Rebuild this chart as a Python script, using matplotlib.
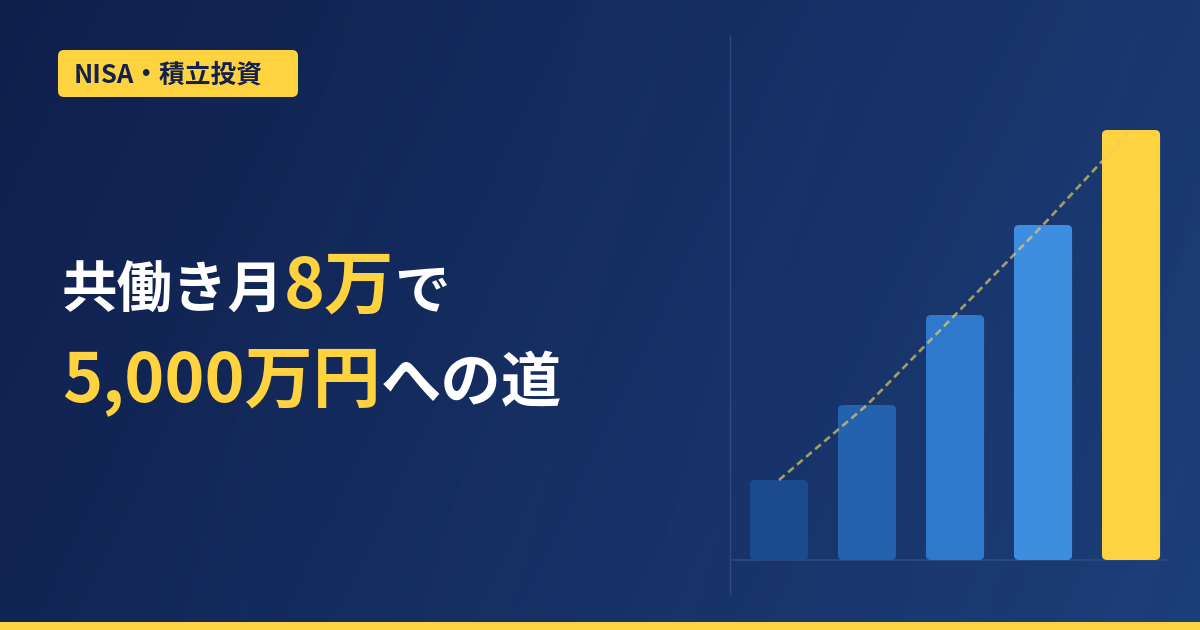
import numpy as np
import matplotlib
matplotlib.use("Agg")
import matplotlib.pyplot as plt
from matplotlib.patches import FancyBboxPatch, Rectangle, Polygon
from matplotlib.colors import to_rgb

plt.rcParams["font.family"] = ["Noto Sans CJK JP", "DejaVu Sans"]

# data
steps = [0, 1, 2, 3, 4]
values = [80, 155, 245, 335, 430]
bar_colors = ["#1C4A8E", "#2461AE", "#2F78CC", "#3D8EE0", "#FFD23F"]

badge_text = "NISA・積立投資"
line1 = [("共働き月", "white", 40), ("8万", "yellow", 50), ("で", "white", 40)]
line2 = [("5,000万円", "yellow", 49), ("への道", "white", 43.5)]

W, H = 1200, 630
YELLOW = "#FFD23F"
NAVY = "#13224A"

fig = plt.figure(figsize=(W / 100, H / 100), dpi=100)

# background in pixel coords
bg = fig.add_axes([0, 0, 1, 1])
bg.set_xlim(0, W)
bg.set_ylim(H, 0)
bg.axis("off")

c0 = np.array(to_rgb("#0F1F4C"))
c1 = np.array(to_rgb("#1C3E79"))
gx, gy = np.meshgrid(np.linspace(0, 1, 300), np.linspace(0, 1, 160))
t = 0.8 * gx + 0.2 * gy
img = c0[None, None, :] * (1 - t[..., None]) + c1[None, None, :] * t[..., None]
bg.imshow(img, extent=(0, W, H, 0), aspect="auto", zorder=0)

# faint diagonal streaks
for x0, w in [(180, 60), (420, 90), (640, 50), (900, 80), (1080, 60)]:
    bg.add_patch(Polygon([(x0, H), (x0 + w, H), (x0 + w + 170, 0), (x0 + 170, 0)],
                         closed=True, facecolor="white", alpha=0.007,
                         edgecolor="none", zorder=1))

# bottom stripe
bg.add_patch(Rectangle((0, 622), W, 8, facecolor=YELLOW, edgecolor="none", zorder=2))

# badge
bg.add_patch(FancyBboxPatch((58, 50), 240, 47,
                            boxstyle="round,pad=0,rounding_size=6",
                            facecolor=YELLOW, edgecolor="none", zorder=3))
bg.text(74, 83, badge_text, fontsize=18.5, fontweight="bold", color=NAVY,
        va="baseline", ha="left", zorder=4)

# title, drawn piece by piece
fig.canvas.draw()
renderer = fig.canvas.get_renderer()
colors = {"white": "white", "yellow": YELLOW}


def draw_line(parts, x, y):
    for txt, kind, size in parts:
        t_obj = bg.text(x, y, txt, fontsize=size, fontweight="bold",
                        color=colors[kind], va="baseline", ha="left", zorder=4)
        bb = t_obj.get_window_extent(renderer=renderer)
        x += bb.width


draw_line(line1, 62, 308)
draw_line(line2, 62, 401)

# chart
ax = fig.add_axes([730 / W, (H - 594) / H, 438 / W, 558 / H])
ax.set_facecolor("none")
ax.set_xlim(-0.557, 4.42)
ax.set_ylim(-34, 524)
for s in ["top", "right", "bottom"]:
    ax.spines[s].set_visible(False)
ax.spines["left"].set_color("#2B4A82")
ax.spines["left"].set_linewidth(1)
ax.set_xticks([])
ax.set_yticks([])
ax.axhline(0, color="#2B4A82", linewidth=1.2, zorder=1)

bw = 0.66
for xi, v, c in zip(steps, values, bar_colors):
    ax.add_patch(FancyBboxPatch((xi - bw / 2, 0), bw, v,
                                boxstyle="round,pad=0,rounding_size=0.06",
                                mutation_aspect=80,
                                facecolor=c, edgecolor="none", zorder=2))

ax.plot(steps, values, color="#E8D060", alpha=0.68, linewidth=1.9,
        dashes=(2.8, 1.7), zorder=3)

fig.savefig("out.png", dpi=100)
